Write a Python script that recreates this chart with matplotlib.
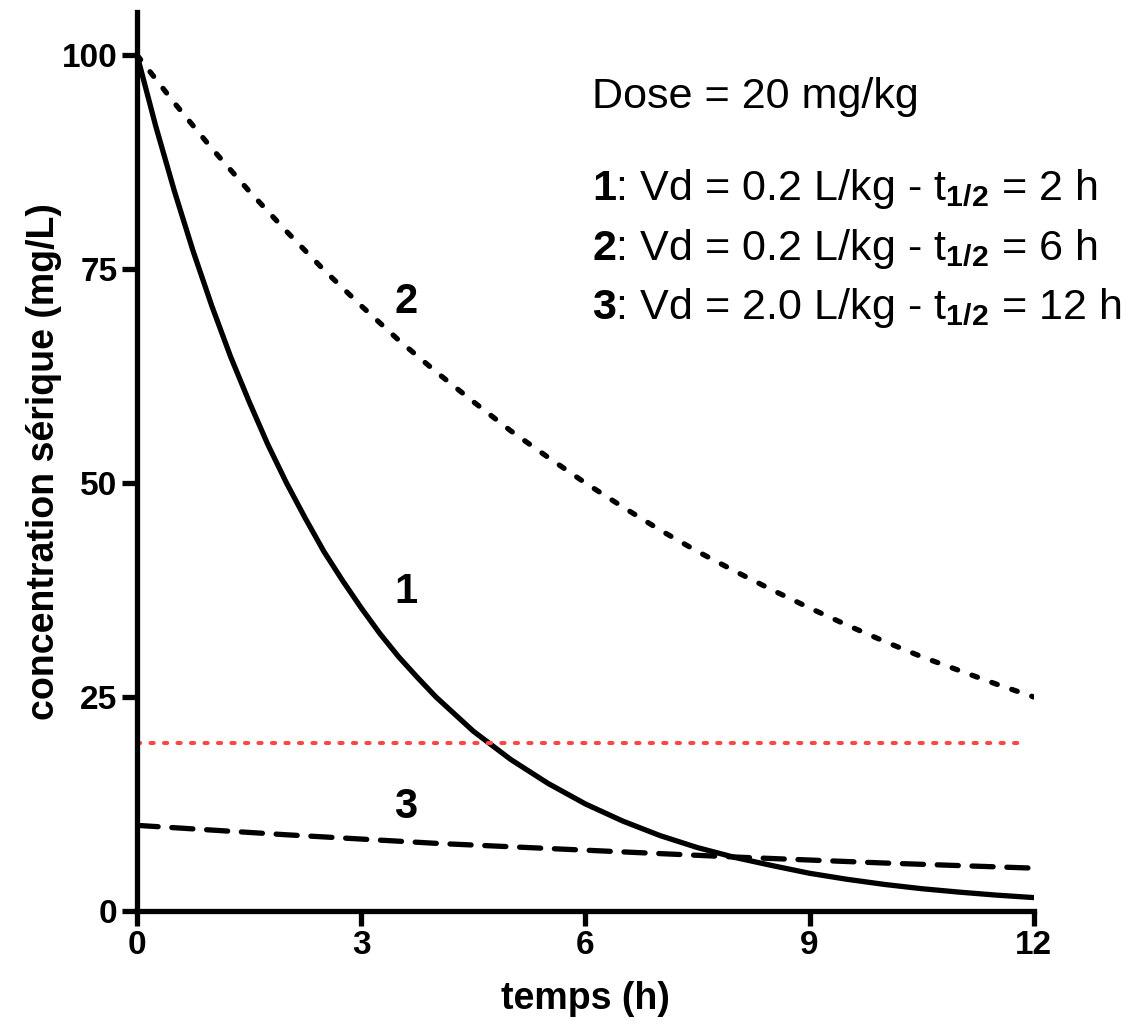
import matplotlib.pyplot as plt

plt.rcParams['font.family'] = ['Liberation Sans', 'DejaVu Sans']
plt.rcParams['mathtext.fontset'] = 'custom'
plt.rcParams['mathtext.rm'] = 'Liberation Sans'
plt.rcParams['mathtext.bf'] = 'Liberation Sans:bold'

# courbe 1 : t1/2 = 2 h
t1 = [0, 0.25, 0.5, 0.75, 1, 1.25, 1.5, 1.75, 2, 2.25, 2.5, 2.75, 3, 3.25,
      3.5, 3.75, 4, 4.5, 5, 5.5, 6, 6.5, 7, 7.5, 8, 8.5, 9, 9.5, 10, 10.5,
      11, 11.5, 12]
c1 = [100, 91.7, 84.1, 77.1, 70.7, 64.8, 59.5, 54.5, 50, 45.9, 42.0, 38.6,
      35.4, 32.4, 29.7, 27.3, 25, 21.0, 17.7, 14.9, 12.5, 10.5, 8.8, 7.4,
      6.25, 5.3, 4.4, 3.7, 3.1, 2.6, 2.2, 1.85, 1.56]
# courbe 2 : t1/2 = 6 h
t2 = [0, 0.5, 1, 1.5, 2, 2.5, 3, 3.5, 4, 4.5, 5, 5.5, 6, 6.5, 7, 7.5, 8,
      8.5, 9, 9.5, 10, 10.5, 11, 11.5, 12]
c2 = [100, 94.4, 89.1, 84.1, 79.4, 74.9, 70.7, 66.7, 63.0, 59.5, 56.1, 53.0,
      50, 47.2, 44.5, 42.0, 39.7, 37.5, 35.4, 33.4, 31.5, 29.7, 28.1, 26.5, 25]
# courbe 3 : t1/2 = 12 h
t3 = [0, 2, 4, 6, 8, 10, 12]
c3 = [10, 8.9, 7.9, 7.1, 6.3, 5.6, 5.0]
seuil = 19.6

fig = plt.figure(figsize=(11.28, 10.24), dpi=100)
ax = fig.add_axes([0.1215, 0.1104, 0.795, 0.8776])

ax.plot(t1, c1, color='black', lw=3.8, solid_capstyle='round')
ax.plot(t2, c2, color='black', lw=3.8, dashes=(1.1, 2.9), dash_capstyle='round')
ax.plot(t3, c3, color='black', lw=3.8, dashes=(4, 2.6), dash_capstyle='round')
ax.plot([0, 11.9], [seuil, seuil], color='#ff4545', lw=2.9, dashes=(0.8, 2.55),
        dash_capstyle='round')

ax.text(3.6, 71.2, '2', fontsize=30, fontweight='bold', ha='center', va='center')
ax.text(3.6, 37.3, '1', fontsize=30, fontweight='bold', ha='center', va='center')
ax.text(3.6, 12.1, '3', fontsize=30, fontweight='bold', ha='center', va='center')

fig.text(0.525, 0.905, 'Dose = 20 mg/kg', fontsize=31.1, va='center')
fig.text(0.525, 0.815, r'$\mathbf{1}$: Vd = 0.2 L/kg - t$_{\mathbf{1/2}}$ = 2 h', fontsize=31.1, va='center')
fig.text(0.525, 0.757, r'$\mathbf{2}$: Vd = 0.2 L/kg - t$_{\mathbf{1/2}}$ = 6 h', fontsize=31.1, va='center')
fig.text(0.525, 0.699, r'$\mathbf{3}$: Vd = 2.0 L/kg - t$_{\mathbf{1/2}}$ = 12 h', fontsize=31.1, va='center')

ax.set_xlim(0, 12)
ax.set_ylim(0, 105)
ax.set_xticks([0, 3, 6, 9, 12])
ax.set_yticks([0, 25, 50, 75, 100])
for s in ['top', 'right']:
    ax.spines[s].set_visible(False)
for s in ['left', 'bottom']:
    ax.spines[s].set_linewidth(3.8)
ax.spines['bottom'].set_bounds(0, 12)
ax.tick_params(width=3.8, length=11, labelsize=24, pad=3)
for lab in ax.get_xticklabels() + ax.get_yticklabels():
    lab.set_fontweight('bold')

ax.set_xlabel('temps (h)', fontsize=27, fontweight='bold', labelpad=14)
ax.set_ylabel('concentration sérique (mg/L)', fontsize=27, fontweight='bold', labelpad=0)

fig.savefig('out.png', dpi=100)
